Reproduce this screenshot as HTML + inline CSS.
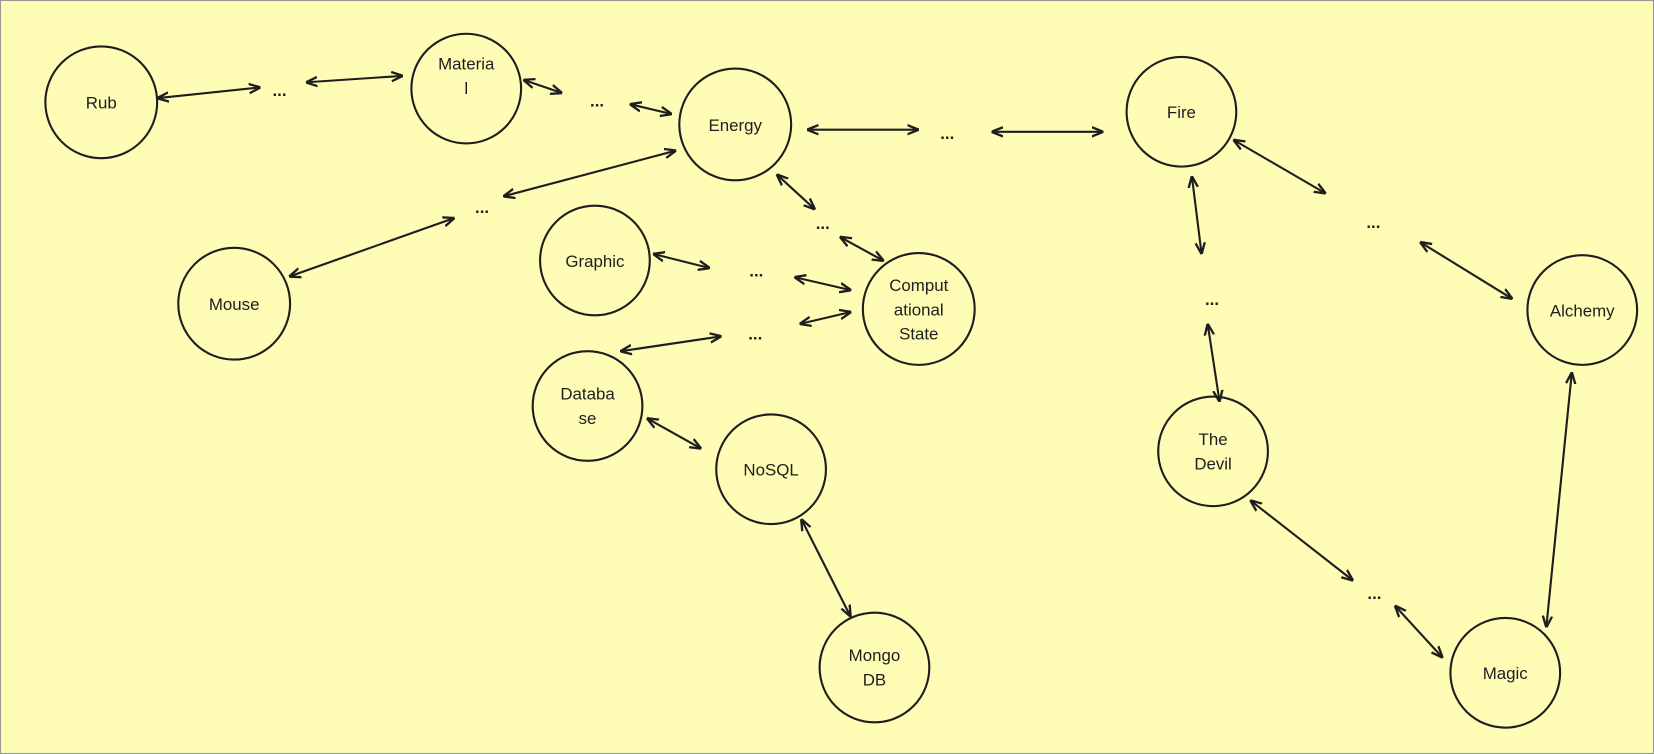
<!DOCTYPE html>
<html><head><meta charset="utf-8"><style>
html,body{margin:0;padding:0;background:#fffcb5;}
svg{display:block}
text{font-family:"Liberation Sans",sans-serif;font-size:16px;fill:#1e1e1e;text-anchor:middle}
</style></head><body>
<svg width="1654" height="754" viewBox="0 0 1568 715" preserveAspectRatio="none">
<defs>
<marker id="a" viewBox="0 0 10 10" refX="9" refY="5" markerWidth="11" markerHeight="11" markerUnits="userSpaceOnUse" orient="auto-start-reverse">
<path d="M0,1 L10,5 L0,9" fill="none" stroke="#1e1e1e" stroke-width="2"/>
</marker>
</defs>
<rect x="0.5" y="0.5" width="1567" height="714" fill="#fffcb5" stroke="#999" stroke-width="1"/>
<g fill="none" stroke="#1e1e1e" stroke-width="2">
<circle cx="96" cy="97" r="53"/>
<circle cx="442" cy="84" r="52"/>
<circle cx="697" cy="118" r="53"/>
<circle cx="1120" cy="106" r="52"/>
<circle cx="222" cy="288" r="53"/>
<circle cx="564" cy="247" r="52"/>
<circle cx="871" cy="293" r="53"/>
<circle cx="557" cy="385" r="52"/>
<circle cx="731" cy="445" r="52"/>
<circle cx="829" cy="633" r="52"/>
<circle cx="1500" cy="294" r="52"/>
<circle cx="1150" cy="428" r="52"/>
<circle cx="1427" cy="638" r="52"/>
</g>
<g stroke="#1e1e1e" stroke-width="2" marker-start="url(#a)" marker-end="url(#a)">
<line x1="150" y1="93" x2="246" y2="83"/>
<line x1="291" y1="78" x2="381" y2="72"/>
<line x1="497" y1="76" x2="532" y2="88"/>
<line x1="598" y1="99" x2="636" y2="108"/>
<line x1="766" y1="123" x2="870" y2="123"/>
<line x1="941" y1="125" x2="1045" y2="125"/>
<line x1="478" y1="186" x2="640" y2="143"/>
<line x1="275" y1="262" x2="430" y2="207"/>
<line x1="737" y1="166" x2="772" y2="198"/>
<line x1="797" y1="225" x2="837" y2="247"/>
<line x1="620" y1="241" x2="672" y2="254"/>
<line x1="754" y1="263" x2="806" y2="275"/>
<line x1="759" y1="307" x2="806" y2="296"/>
<line x1="589" y1="333" x2="683" y2="319"/>
<line x1="614" y1="397" x2="664" y2="425"/>
<line x1="760" y1="493" x2="806" y2="584"/>
<line x1="1170" y1="133" x2="1256" y2="183"/>
<line x1="1347" y1="230" x2="1433" y2="283"/>
<line x1="1130" y1="168" x2="1139" y2="240"/>
<line x1="1145" y1="308" x2="1156" y2="380"/>
<line x1="1490" y1="354" x2="1466" y2="594"/>
<line x1="1186" y1="475" x2="1282" y2="550"/>
<line x1="1323" y1="575" x2="1367" y2="623"/>
</g>
<g>
<text x="96" y="103">Rub</text>
<text x="442" y="66">Materia</text><text x="442" y="89">l</text>
<text x="697" y="124">Energy</text>
<text x="1120" y="112">Fire</text>
<text x="222" y="294">Mouse</text>
<text x="564" y="253">Graphic</text>
<text x="871" y="276">Comput</text><text x="871" y="299">ational</text><text x="871" y="322">State</text>
<text x="557" y="379">Databa</text><text x="557" y="402">se</text>
<text x="731" y="451">NoSQL</text>
<text x="829" y="627">Mongo</text><text x="829" y="650">DB</text>
<text x="1500" y="300">Alchemy</text>
<text x="1150" y="422">The</text><text x="1150" y="445">Devil</text>
<text x="1427" y="644">Magic</text>
</g>
<g style="font-size:24px;font-weight:bold">
<text x="265" y="91">...</text>
<text x="566" y="101">...</text>
<text x="898" y="132">...</text>
<text x="457" y="202">...</text>
<text x="780" y="217">...</text>
<text x="717" y="262">...</text>
<text x="716" y="322">...</text>
<text x="1302" y="216">...</text>
<text x="1149" y="289">...</text>
<text x="1303" y="568">...</text>
</g>
</svg>
</body></html>
